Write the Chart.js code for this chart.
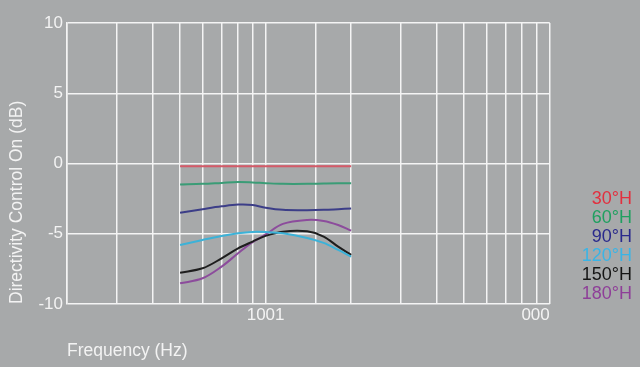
<!DOCTYPE html>
<html>
<head>
<meta charset="utf-8">
<script src="https://cdn.jsdelivr.net/npm/chart.js@4/dist/chart.umd.min.js"></script>
<style>
  html, body { margin: 0; padding: 0; background: #a7a9aa; }
  #wrap { width: 640px; height: 367px; }
</style>
</head>
<body>
<div id="wrap"><canvas id="myChart" width="640" height="367"></canvas></div>
<script>
const freqs = [500, 600, 700, 800, 900, 1000, 1150, 1400, 1600, 1800, 2000];

// dB values per horizontal angle
const h30  = [-0.2, -0.2, -0.2, -0.2, -0.2, -0.2, -0.2, -0.2, -0.2, -0.2, -0.2];
const h60  = [-1.5, -1.45, -1.38, -1.32, -1.35, -1.4, -1.45, -1.45, -1.42, -1.4, -1.4];
const h90  = [-3.5, -3.25, -3.05, -2.92, -2.95, -3.15, -3.3, -3.32, -3.3, -3.25, -3.2];
const h120 = [-5.8, -5.44, -5.16, -4.97, -4.87, -4.88, -4.97, -5.3, -5.65, -6.15, -6.63];
const h150 = [-7.77, -7.46, -6.75, -6.04, -5.56, -5.15, -4.85, -4.83, -5.2, -5.92, -6.5];
const h180 = [-8.53, -8.17, -7.34, -6.39, -5.6, -5.05, -4.3, -4.02, -4.09, -4.38, -4.78];

const seriesNames = ['30°H', '60°H', '90°H', '120°H', '150°H', '180°H'];
const lineColors = ['#d45a68', '#3a9c76', '#3c3e88', '#3cb2d8', '#1e1e1e', '#8c4c9c'];
const textColors = ['#e2303f', '#20a060', '#2a2a8c', '#3ab4e6', '#151515', '#8e3f98'];

// x tick labels as printed on the original
const xTickLabels = {1000: '1001', 10000: '000'};

const allSeries = [h30, h60, h90, h120, h150, h180];
const textCol = '#f3f3f3';
const gridCol = '#f4f4f4';

const ctx = document.getElementById('myChart').getContext('2d');
const chart = new Chart(ctx, {
    type: 'line',
    data: {
        datasets: allSeries.map((vals, i) => ({
            label: seriesNames[i],
            data: vals.map((v, j) => ({x: freqs[j], y: v})),
            borderColor: lineColors[i],
            backgroundColor: lineColors[i],
            borderWidth: 2,
            pointRadius: 0,
            tension: 0.35,
            fill: false
        }))
    },
    options: {
        responsive: false,
        animation: false,
        layout: { padding: {left: 0, right: 8, top: 23, bottom: 0} },
        plugins: {
            tooltip: { enabled: false },
            legend: {
                position: 'right',
                align: 'end',
                fullSize: false,
                labels: {
                    font: { family: 'Liberation Sans, Arial, sans-serif', size: 18 },
                    boxWidth: 12,
                    boxHeight: 18,
                    padding: 1,
                    textAlign: 'right',
                    generateLabels: (c) => c.data.datasets.map((ds, i) => ({
                        text: seriesNames[i],
                        fontColor: textColors[i],
                        fillStyle: 'transparent',
                        strokeStyle: 'transparent',
                        lineWidth: 0,
                        hidden: !c.isDatasetVisible(i),
                        datasetIndex: i
                    }))
                }
            }
        },
        scales: {
            x: {
                type: 'logarithmic',
                min: 200,
                max: 10000,
                afterFit: (s) => { s.height = 63; },
                grid: { color: gridCol, lineWidth: 1.5, drawTicks: false },
                border: { display: false },
                ticks: {
                    autoSkip: false,
                    maxRotation: 0,
                    padding: 1,
                    color: textCol,
                    font: { family: 'Liberation Sans, Arial, sans-serif', size: 17 },
                    callback: (v) => xTickLabels[v] !== undefined ? xTickLabels[v] + (v === 10000 ? '\u2007\u2007\u2007' : '') : ''
                },
                title: {
                    display: true,
                    text: 'Frequency (Hz)',
                    align: 'start',
                    color: textCol,
                    font: { family: 'Liberation Sans, Arial, sans-serif', size: 17.5 },
                    padding: { top: 0, bottom: 5 }
                }
            },
            y: {
                min: -10,
                max: 10,
                afterFit: (s) => { s.width = 67; },
                grid: { color: gridCol, lineWidth: 1.5, drawTicks: false },
                border: { color: gridCol, width: 1.5 },
                ticks: {
                    stepSize: 5,
                    padding: 4,
                    color: textCol,
                    font: { family: 'Liberation Sans, Arial, sans-serif', size: 17 }
                },
                title: {
                    display: true,
                    text: 'Directivity Control On (dB)',
                    align: 'start',
                    color: textCol,
                    font: { family: 'Liberation Sans, Arial, sans-serif', size: 17.5 },
                    padding: { top: 6.5, bottom: 0 }
                }
            }
        }
    }
});
</script>
</body>
</html>
